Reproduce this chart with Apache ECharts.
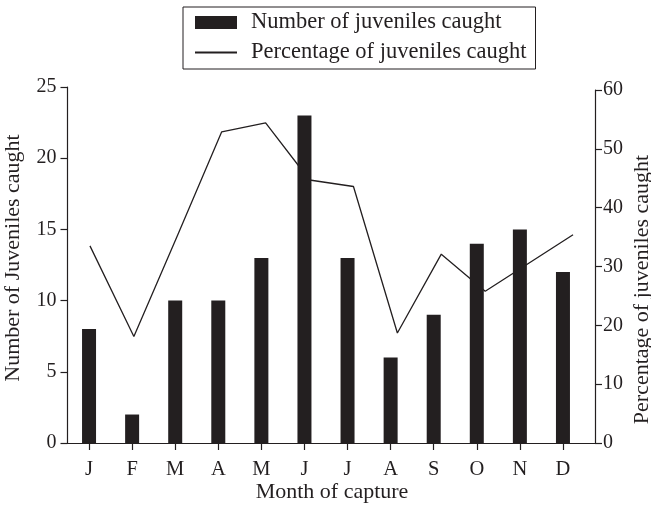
<!DOCTYPE html>
<html>
<head>
<meta charset="utf-8">
<script src="https://cdn.jsdelivr.net/npm/echarts@6/dist/echarts.min.js"></script>
<style>
  html, body { margin: 0; padding: 0; background: #ffffff; }
  #chart { width: 651px; height: 508px; }
</style>
</head>
<body>
<div id="chart"></div>
<script>
// Monthly catch of juveniles: counts (bars, left axis) and percentage (line, right axis)
const months = ['J', 'F', 'M', 'A', 'M', 'J', 'J', 'A', 'S', 'O', 'N', 'D'];
const juvenileCounts = [8, 2, 10, 10, 13, 23, 13, 6, 9, 14, 15, 12];
const juvenilePercent = [33.5, 18.1, 35.4, 52.9, 54.4, 44.7, 43.6, 18.7, 32.1, 25.8, 30.6, 35.4];
const countTicks = { min: 0, max: 25, interval: 5 };
const percentTicks = { min: 0, max: 60, interval: 10 };

const ink = '#231f20';
const serif = '"Liberation Serif", "Times New Roman", serif';

const chart = echarts.init(document.getElementById('chart'), null, { renderer: 'canvas' });

// Grids keep fixed pixel bounds; axis names may sit close to the edges.
const gridBase = { top: 87, bottom: 65, containLabel: false, outerBoundsMode: 'none' };

chart.setOption({
  backgroundColor: '#ffffff',
  animation: false,
  textStyle: { fontFamily: serif, color: ink },
  legend: {
    orient: 'vertical',
    left: 183,
    top: 7,
    padding: [4, 9, 5, 11],
    itemGap: 7,
    itemWidth: 42,
    itemHeight: 13,
    borderColor: ink,
    borderWidth: 1,
    textStyle: { fontFamily: serif, fontSize: 22.5, color: ink, padding: [0, 0, 0, 9] },
    data: [
      { name: 'Number of juveniles caught', icon: 'rect' },
      { name: 'Percentage of juveniles caught', itemStyle: { opacity: 0 } }
    ]
  },
  grid: [
    Object.assign({}, gridBase, { left: 67.5, right: 66.5 }),
    Object.assign({}, gridBase, { left: 68, right: 56, top: 90 }),
    Object.assign({}, gridBase, { left: 62, right: 56 })
  ],
  xAxis: [
    {
      type: 'category',
      gridIndex: 0,
      data: months,
      boundaryGap: true,
      axisLine: { show: false },
      axisTick: { show: true, alignWithLabel: true, length: 7, lineStyle: { color: ink, width: 1.2 } },
      axisLabel: { fontFamily: serif, fontSize: 20.5, color: ink, margin: 16 },
      name: 'Month of capture',
      nameLocation: 'middle',
      nameGap: 38,
      nameMoveOverlap: false,
      nameTextStyle: { fontFamily: serif, fontSize: 22, color: ink, padding: [0, 0, 0, 12] }
    },
    {
      type: 'category',
      gridIndex: 1,
      data: months,
      boundaryGap: true,
      axisLine: { show: false },
      axisTick: { show: false },
      axisLabel: { show: false }
    },
    {
      type: 'value',
      gridIndex: 2,
      min: 0,
      max: 1,
      axisLine: { show: true, lineStyle: { color: ink, width: 1.2 } },
      axisTick: { show: false },
      axisLabel: { show: false },
      splitLine: { show: false }
    }
  ],
  yAxis: [
    {
      type: 'value',
      gridIndex: 0,
      position: 'left',
      min: countTicks.min,
      max: countTicks.max,
      interval: countTicks.interval,
      axisLine: { show: true, lineStyle: { color: ink, width: 1.2 } },
      axisTick: { show: true, length: 7, lineStyle: { color: ink, width: 1.2 } },
      axisLabel: { fontFamily: serif, fontSize: 20, color: ink, margin: 11 },
      splitLine: { show: false },
      name: 'Number of Juveniles caught',
      nameLocation: 'middle',
      nameRotate: 90,
      nameGap: 43,
      nameMoveOverlap: false,
      nameTextStyle: { fontFamily: serif, fontSize: 22, color: ink, padding: [0, 0, 0, 14] }
    },
    {
      type: 'value',
      gridIndex: 1,
      position: 'right',
      min: percentTicks.min,
      max: percentTicks.max,
      interval: percentTicks.interval,
      axisLine: { show: true, lineStyle: { color: ink, width: 1.2 } },
      axisTick: { show: true, length: 7, lineStyle: { color: ink, width: 1.2 } },
      axisLabel: { fontFamily: serif, fontSize: 20, color: ink, margin: 8 },
      splitLine: { show: false },
      name: 'Percentage of juveniles caught',
      nameLocation: 'middle',
      nameRotate: 90,
      nameGap: 36,
      nameMoveOverlap: false,
      nameTextStyle: { fontFamily: serif, fontSize: 22, color: ink, padding: [0, 46, 0, 0] }
    },
    {
      type: 'value',
      gridIndex: 2,
      show: false
    }
  ],
  series: [
    {
      name: 'Number of juveniles caught',
      type: 'bar',
      xAxisIndex: 0,
      yAxisIndex: 0,
      data: juvenileCounts,
      barWidth: 14,
      itemStyle: { color: ink },
      z: 3
    },
    {
      name: 'Percentage of juveniles caught',
      type: 'line',
      xAxisIndex: 1,
      yAxisIndex: 1,
      data: juvenilePercent,
      symbol: 'none',
      lineStyle: { color: ink, width: 1.3 },
      itemStyle: { color: ink },
      z: 2
    }
  ]
});
</script>
</body>
</html>
